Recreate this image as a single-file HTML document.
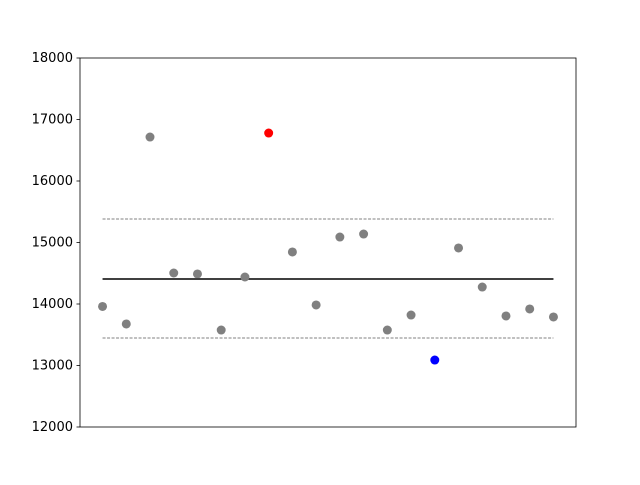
<!DOCTYPE html>
<html><head><meta charset="utf-8"><style>body{margin:0;background:#fff}</style></head>
<body>
<svg id="chart" width="640" height="480" xmlns="http://www.w3.org/2000/svg" font-family="'DejaVu Sans','Liberation Sans',sans-serif">
<rect width="640" height="480" fill="#fff"/>
</svg>
<script>
const values=[13960,13675,16715,14504,14488,13577,14439,16780,14846,13984,15089,15138,13577,13821,13089,14911,14276,13805,13919,13789];
const colors=['gray','gray','gray','gray','gray','gray','gray','red','gray','gray','gray','gray','gray','gray','blue','gray','gray','gray','gray','gray'];
const meanValue=14407;
const upperLimit=15382;
const lowerLimit=13447;
const yTicks=[12000,13000,14000,15000,16000,17000,18000];
const L=80,R=576,T=58,B=427,ymin=12000,ymax=18000;
const n=values.length;
const xmin=-0.05*(n-1),xmax=(n-1)*1.05;
const xs=i=>L+(i-xmin)/(xmax-xmin)*(R-L);
const ys=v=>B-(v-ymin)/(ymax-ymin)*(B-T);
const svg=document.getElementById('chart');
const NS='http://www.w3.org/2000/svg';
function mk(t,a){const e=document.createElementNS(NS,t);for(const k in a)e.setAttribute(k,a[k]);svg.appendChild(e);return e;}
function hline(v,dash,name,color){
 const e=mk('line',{x1:xs(0),x2:xs(n-1),y1:ys(v),y2:ys(v),stroke:color,'stroke-width':dash?1:1.5,'stroke-dasharray':dash?'3,1.5':'none'});
 
 
}
hline(upperLimit,true,'upper-limit-line','#808080');
hline(lowerLimit,true,'lower-limit-line','#808080');
hline(meanValue,false,'mean-line','#000');
values.forEach((v,i)=>{
 const c=mk('circle',{cx:xs(i),cy:ys(v),r:4.5,fill:colors[i]});
 
 
});
yTicks.forEach(t=>{
 const y=ys(t);
 const l=mk('line',{x1:L-3.5,x2:L,y1:y,y2:y,stroke:'#000','stroke-width':0.8});
 
 
 const tx=mk('text',{x:L-7,y:y+4,'text-anchor':'end','font-size':13,fill:'#000'});
 tx.textContent=t;
 
 
});
const fr=mk('rect',{x:L,y:T,width:R-L,height:B-T,fill:'none',stroke:'#000','stroke-width':0.8});


</script>
</body></html>
